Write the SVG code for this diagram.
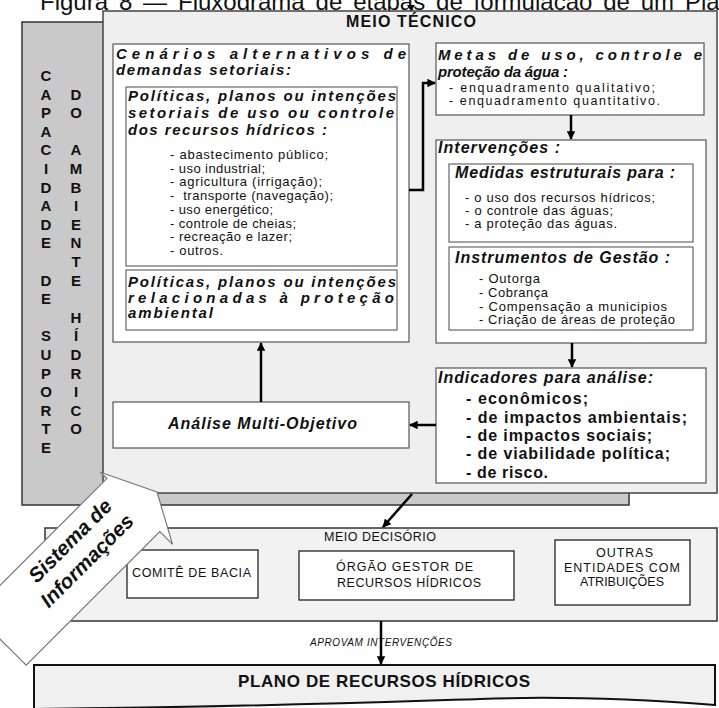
<svg xmlns="http://www.w3.org/2000/svg" width="719" height="708" viewBox="0 0 719 708">
<defs>
<marker id="ah" viewBox="0 0 10 10" refX="9" refY="5" markerWidth="3.8" markerHeight="3.4" orient="auto" markerUnits="strokeWidth">
<path d="M0,0 L10,5 L0,10 z" fill="#000"/>
</marker>
</defs>
<style>
text{font-family:"Liberation Sans",Arial,sans-serif;fill:#111}
.bi{font-weight:bold;font-style:italic;font-size:15px}
.bi16{font-weight:bold;font-style:italic;font-size:16px}
.li{font-size:13px}
.lm{font-size:12.5px}
.lb{font-size:16px;font-weight:bold}
.box{fill:#fff;stroke:#555;stroke-width:1.2}
.ibox{fill:#fff;stroke:#666;stroke-width:1.2}
.vt{font-weight:bold;font-size:15px;text-anchor:middle}
.dec{font-size:12.5px}
.dbox{fill:#fff;stroke:#222;stroke-width:1.3}
.con{fill:none;stroke:#000;stroke-width:2.5}
.si{font-size:20.5px;font-weight:bold;font-style:italic;text-anchor:middle}
</style>
<rect width="719" height="708" fill="#fff"/>
<text x="40" y="10" font-size="24" word-spacing="4.2">Figura 8 — Fluxograma de etapas de formulação de um Pla</text>

<g id="suporte">
<rect x="22" y="22" width="607" height="483" fill="#c9c9c9" stroke="#333" stroke-width="1.5"/>
<text class="vt"><tspan x="46" y="81">C</tspan><tspan x="46" y="99.6">A</tspan><tspan x="46" y="118.2">P</tspan><tspan x="46" y="136.8">A</tspan><tspan x="46" y="155.4">C</tspan><tspan x="46" y="174">I</tspan><tspan x="46" y="192.6">D</tspan><tspan x="46" y="211.2">A</tspan><tspan x="46" y="229.8">D</tspan><tspan x="46" y="248.4">E</tspan><tspan x="46" y="285.6">D</tspan><tspan x="46" y="304.2">E</tspan><tspan x="46" y="341.4">S</tspan><tspan x="46" y="360">U</tspan><tspan x="46" y="378.6">P</tspan><tspan x="46" y="397.2">O</tspan><tspan x="46" y="415.8">R</tspan><tspan x="46" y="434.4">T</tspan><tspan x="46" y="453">E</tspan></text>
<text class="vt"><tspan x="76" y="99.6">D</tspan><tspan x="76" y="118.2">O</tspan><tspan x="76" y="155.4">A</tspan><tspan x="76" y="174">M</tspan><tspan x="76" y="192.6">B</tspan><tspan x="76" y="211.2">I</tspan><tspan x="76" y="229.8">E</tspan><tspan x="76" y="248.4">N</tspan><tspan x="76" y="267">T</tspan><tspan x="76" y="285.6">E</tspan><tspan x="76" y="322.8">H</tspan><tspan x="76" y="341.4">Í</tspan><tspan x="76" y="360">D</tspan><tspan x="76" y="378.6">R</tspan><tspan x="76" y="397.2">I</tspan><tspan x="76" y="415.8">C</tspan><tspan x="76" y="434.4">O</tspan></text>
</g>

<g id="meio-tecnico">
<rect x="103" y="11" width="614" height="482" fill="#efefef" stroke="#444" stroke-width="1.5"/>
<text x="346" y="27" font-weight="bold" font-size="16" textLength="130">MEIO TÉCNICO</text>
<polygon points="407,5 415,5 411,11" fill="#000"/>
</g>

<g id="cenarios">
<rect class="box" x="113" y="44" width="296" height="298"/>
<text class="bi" x="116" y="59" textLength="290">Cenários alternativos de</text>
<text class="bi" x="116" y="75" textLength="175">demandas setoriais:</text>
</g>

<g id="politicas-uso">
<rect class="ibox" x="126" y="87" width="271" height="179"/>
<text class="bi" x="128" y="101" textLength="268">Políticas, planos ou intenções</text>
<text class="bi" x="128" y="118" textLength="266">setoriais de uso ou controle</text>
<text class="bi" x="128" y="135" textLength="199">dos recursos hídricos :</text>
<text class="li" x="170" y="159" textLength="158">- abastecimento público;</text>
<text class="li" x="170" y="172.7" textLength="95">- uso industrial;</text>
<text class="li" x="170" y="186.4" textLength="152">- agricultura (irrigação);</text>
<text class="li" x="170" y="200.1" textLength="163" xml:space="preserve">-  transporte (navegação);</text>
<text class="li" x="170" y="213.8" textLength="103">- uso energético;</text>
<text class="li" x="170" y="227.5" textLength="126">- controle de cheias;</text>
<text class="li" x="170" y="241.2" textLength="122">- recreação e lazer;</text>
<text class="li" x="170" y="254.9" textLength="53">- outros.</text>
</g>

<g id="politicas-protecao">
<rect class="ibox" x="126" y="270" width="271" height="60"/>
<text class="bi" x="128" y="287" textLength="268">Políticas, planos ou intenções</text>
<text class="bi" x="128" y="303" textLength="266">relacionadas à proteção</text>
<text class="bi" x="128" y="318" textLength="85">ambiental</text>
</g>

<g id="metas">
<rect class="box" x="436" y="43" width="268" height="72"/>
<text class="bi" x="438" y="60" textLength="264">Metas de uso, controle e</text>
<text class="bi" x="438" y="77" textLength="130">proteção da água :</text>
<text class="lm" x="449" y="92" textLength="206">- enquadramento qualitativo;</text>
<text class="lm" x="449" y="105" textLength="211">- enquadramento quantitativo.</text>
</g>

<g id="intervencoes">
<rect class="box" x="436" y="140" width="270" height="203"/>
<text class="bi16" x="438" y="153" textLength="122">Intervenções :</text>
</g>

<g id="medidas">
<rect class="ibox" x="449" y="164" width="244" height="78"/>
<text class="bi16" x="455" y="178" textLength="220">Medidas estruturais para :</text>
<text class="li" x="465" y="202" textLength="190">- o uso dos recursos hídricos;</text>
<text class="li" x="465" y="215" textLength="148">- o controle das águas;</text>
<text class="li" x="465" y="228" textLength="152">- a proteção das águas.</text>
</g>

<g id="instrumentos">
<rect class="ibox" x="449" y="247" width="244" height="83"/>
<text class="bi16" x="455" y="263" textLength="215">Instrumentos de Gestão :</text>
<text class="li" x="479" y="283" textLength="61">- Outorga</text>
<text class="li" x="479" y="297" textLength="69">- Cobrança</text>
<text class="li" x="479" y="311" textLength="188">- Compensação a municipios</text>
<text class="li" x="479" y="324" textLength="196">- Criação de áreas de proteção</text>
</g>

<g id="indicadores">
<rect class="box" x="436" y="368" width="270" height="115"/>
<text class="bi16" x="438" y="383" textLength="215">Indicadores para análise:</text>
<text class="lb" x="466" y="404" textLength="122">- econômicos;</text>
<text class="lb" x="466" y="423" textLength="221">- de impactos ambientais;</text>
<text class="lb" x="466" y="441" textLength="186">- de impactos sociais;</text>
<text class="lb" x="466" y="459" textLength="204">- de viabilidade política;</text>
<text class="lb" x="466" y="478" textLength="82">- de risco.</text>
</g>

<g id="analise">
<rect class="box" x="113" y="402" width="296" height="46"/>
<text class="bi16" x="168" y="429" textLength="189">Análise Multi-Objetivo</text>
</g>

<g id="meio-decisorio">
<rect x="45" y="528" width="672" height="93" fill="#f2f2f2" stroke="#333" stroke-width="1.5"/>
<text class="dec" x="324" y="541" textLength="112">MEIO DECISÓRIO</text>
</g>
<g id="comite">
<rect class="dbox" x="127" y="550" width="131" height="48"/>
<text class="dec" x="132" y="577" textLength="119">COMITÊ DE BACIA</text>
</g>
<g id="orgao">
<rect class="dbox" x="299" y="551" width="215" height="49"/>
<text class="dec" x="336" y="571" textLength="137">ÓRGÃO GESTOR DE</text>
<text class="dec" x="337" y="587" textLength="144">RECURSOS HÍDRICOS</text>
</g>
<g id="outras">
<rect class="dbox" x="555" y="540" width="135" height="65"/>
<text class="dec" x="596" y="557" textLength="57">OUTRAS</text>
<text class="dec" x="564" y="572" textLength="116">ENTIDADES COM</text>
<text class="dec" x="580" y="586" textLength="84">ATRIBUIÇÕES</text>
</g>

<g id="plano">
<path d="M34,665 H715 V705 C650,700 560,696 480,699 C380,702 250,707 34,709 Z" fill="#f0f0f0" stroke="#111" stroke-width="2"/>
<text x="238" y="687" font-weight="bold" font-size="17" textLength="292">PLANO DE RECURSOS HÍDRICOS</text>
</g>

<g id="connectors">
<path class="con" d="M409,190 H423 V83 H435" marker-end="url(#ah)"/>
<path class="con" d="M571,115 V139" marker-end="url(#ah)"/>
<path class="con" d="M572,343 V367" marker-end="url(#ah)"/>
<path class="con" d="M436,425 H410" marker-end="url(#ah)"/>
<path class="con" d="M261,402 V343" marker-end="url(#ah)"/>
<path class="con" d="M412,494 L383,527" marker-end="url(#ah)"/>
<path class="con" d="M381,621 V664" marker-end="url(#ah)"/>
<text x="310" y="646" font-size="10" font-style="italic" fill="#444" textLength="142">APROVAM INTERVENÇÕES</text>
</g>

<g id="sistema-informacoes" transform="translate(157,492) rotate(-45)">
<polygon points="0,0 -26,-54 -26,-45 -215,-45 -215,30 -26,30 -26,48" fill="#fff" stroke="#777" stroke-width="1.2"/>
<text class="si" x="-96" y="-20">Sistema de</text>
<text class="si" x="-98" y="6">Informações</text>
</g>
</svg>
